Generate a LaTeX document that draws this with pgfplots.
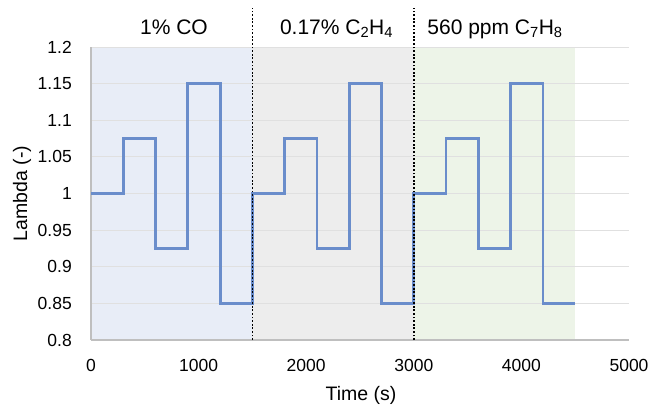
\documentclass[border=0pt]{standalone}
\usepackage{pgfplots}
\pgfplotsset{compat=1.18}
\usepackage{fontspec}
\setmainfont{Liberation Sans}
\definecolor{lineblue}{HTML}{6A8DCB}
\definecolor{shblue}{HTML}{E8EDF7}
\definecolor{shgray}{HTML}{EDEDED}
\definecolor{shgreen}{HTML}{EDF4E8}
\definecolor{gridc}{HTML}{E0E0E0}
\definecolor{axc}{HTML}{BFBFBF}
\begin{document}
\begin{tikzpicture}
\begin{axis}[
  set layers,
  scale only axis,
  width=538bp, height=293bp,
  xmin=0, xmax=5000, ymin=0.8, ymax=1.2,
  axis x line*=bottom, axis y line*=left,
  axis line style={axc, line width=1.2bp},
  xtick={0,1000,2000,3000,4000,5000},
  xticklabels={0,1000,2000,3000,4000,5000},
  ytick={0.8,0.85,0.9,0.95,1,1.05,1.1,1.15,1.2},
  yticklabels={0.8,0.85,0.9,0.95,1,1.05,1.1,1.15,1.2},
  major tick length=0pt,
  ymajorgrids, grid style={gridc, line width=0.75bp},
  tick label style={font=\fontsize{17.5bp}{20bp}\selectfont, inner sep=0pt},
  xticklabel style={anchor=center, yshift=-25bp},
  yticklabel style={anchor=east, xshift=-19bp},
  xlabel={Time (s)}, ylabel={Lambda (-)},
  label style={font=\fontsize{19.5bp}{22bp}\selectfont, inner sep=0pt},
  xlabel style={at={([yshift=-55bp]axis description cs:0.502,0)}, anchor=center},
  ylabel style={at={([xshift=-69bp]axis description cs:0,0.5)}, anchor=center},
  clip=false,
]
\addplot[on layer=axis background, fill=shblue, draw=none] coordinates {(0,0.8) (1500,0.8) (1500,1.2) (0,1.2)} -- cycle;
\addplot[on layer=axis background, fill=shgray, draw=none] coordinates {(1500,0.8) (3000,0.8) (3000,1.2) (1500,1.2)} -- cycle;
\addplot[on layer=axis background, fill=shgreen, draw=none] coordinates {(3000,0.8) (4500,0.8) (4500,1.2) (3000,1.2)} -- cycle;
\addplot[lineblue, line width=2.8bp, const plot, mark=none] coordinates {
(0,1) (300,1.075) (600,0.925) (900,1.15) (1200,0.85)
(1500,1) (1800,1.075) (2100,0.925) (2400,1.15) (2700,0.85)
(3000,1) (3300,1.075) (3600,0.925) (3900,1.15) (4200,0.85) (4500,0.85)};
\addplot[black, line width=1.8bp, dash pattern=on 1.8bp off 1.8bp, mark=none] coordinates {(1500,0.8) (1500,1.253)};
\addplot[black, line width=1.8bp, dash pattern=on 1.8bp off 1.8bp, mark=none] coordinates {(3000,0.8) (3000,1.253)};
\node[font=\fontsize{21bp}{24bp}\selectfont, anchor=base, inner sep=0pt] at (axis cs:771,1.2177) {1\% CO};
\node[font=\fontsize{21bp}{24bp}\selectfont, anchor=base, inner sep=0pt] at (axis cs:2282,1.2177) {0.17\% C\textsubscript{2}H\textsubscript{4}};
\node[font=\fontsize{21bp}{24bp}\selectfont, anchor=base, inner sep=0pt] at (axis cs:3755,1.2177) {560 ppm C\textsubscript{7}H\textsubscript{8}};
\end{axis}
\pgfresetboundingbox
\path (current axis.south west) ++(-91bp,-67bp) rectangle ([shift={(22bp,47bp)}]current axis.north east);
\end{tikzpicture}
\end{document}
